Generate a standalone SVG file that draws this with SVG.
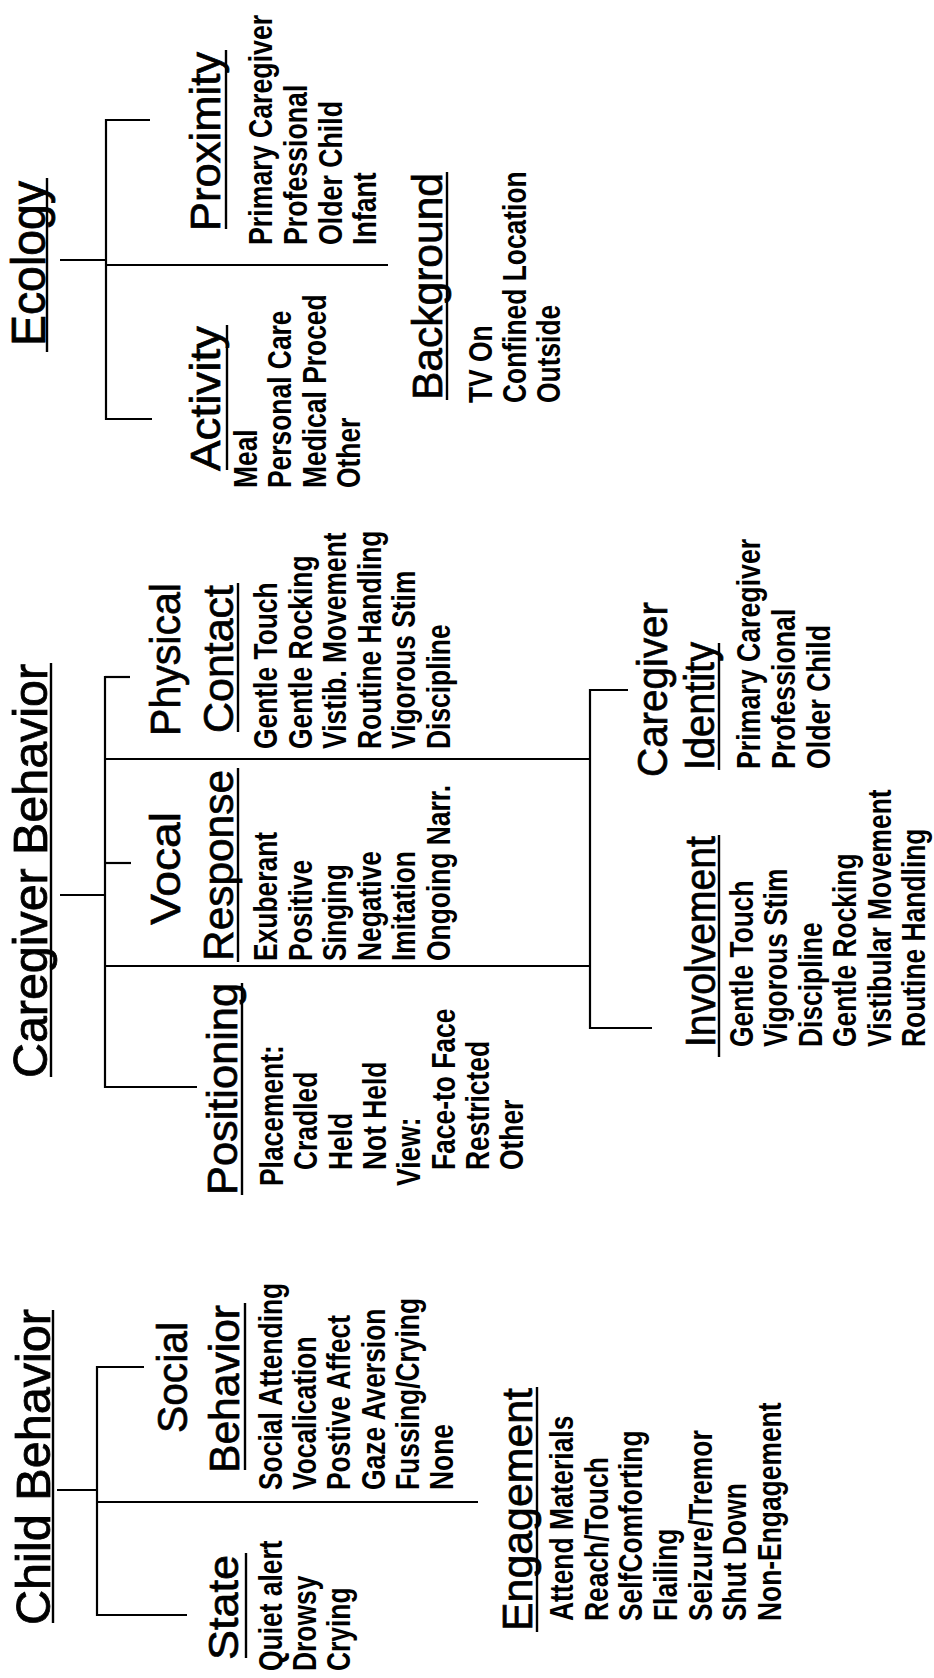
<svg xmlns="http://www.w3.org/2000/svg" width="934" height="1678" viewBox="0 0 934 1678">
<style>
text{font-family:"Liberation Sans",Arial,sans-serif;fill:#000}
.t{font-size:48px;stroke:#000;stroke-width:0.8px}
.h{font-size:43px;stroke:#000;stroke-width:0.7px}
.i{font-size:33px;font-weight:bold}
.u{stroke:#000;stroke-width:2.4;fill:none}
.c line{stroke:#000;stroke-width:2.2;fill:none}
</style>
<rect width="934" height="1678" fill="#fff"/>

<g id="connectors" class="c">
  <!-- Ecology -->
  <line x1="60" y1="260" x2="106" y2="260"/>
  <line x1="106" y1="119" x2="106" y2="420"/>
  <line x1="106" y1="120" x2="150" y2="120"/>
  <line x1="106" y1="419" x2="152" y2="419"/>
  <line x1="106" y1="265" x2="388" y2="265"/>
  <!-- Caregiver Behavior -->
  <line x1="60" y1="895" x2="105" y2="895"/>
  <line x1="105" y1="676" x2="105" y2="1088"/>
  <line x1="105" y1="677" x2="130" y2="677"/>
  <line x1="105" y1="759" x2="590" y2="759"/>
  <line x1="105" y1="863" x2="131" y2="863"/>
  <line x1="105" y1="966" x2="590" y2="966"/>
  <line x1="105" y1="1087" x2="197" y2="1087"/>
  <line x1="590" y1="689" x2="590" y2="1029"/>
  <line x1="590" y1="690" x2="628" y2="690"/>
  <line x1="590" y1="1028" x2="652" y2="1028"/>
  <!-- Child Behavior -->
  <line x1="57" y1="1490" x2="97" y2="1490"/>
  <line x1="97" y1="1366" x2="97" y2="1616"/>
  <line x1="97" y1="1367" x2="144" y2="1367"/>
  <line x1="97" y1="1615" x2="187" y2="1615"/>
  <line x1="97" y1="1502" x2="478" y2="1502"/>
</g>

<!-- ECOLOGY -->
<g id="ecology">
  <text class="t" transform="translate(45,346) rotate(-90)" textLength="165" lengthAdjust="spacingAndGlyphs">Ecology</text>
  <line class="u" x1="47" y1="178" x2="47" y2="352"/>
</g>
<g id="proximity">
  <text class="h" font-size="44" transform="translate(220,231) rotate(-90)" textLength="179" lengthAdjust="spacingAndGlyphs">Proximity</text>
  <line class="u" x1="226" y1="50" x2="226" y2="229"/>
  <text class="i" transform="translate(272,245) rotate(-90) scale(0.81,1)"><tspan x="0" y="0">Primary Caregiver</tspan><tspan x="0" y="35">Professional</tspan><tspan x="0" y="70">Older Child</tspan><tspan x="0" y="104">Infant</tspan></text>
</g>
<g id="activity">
  <text class="h" transform="translate(220,471) rotate(-90)" textLength="145" lengthAdjust="spacingAndGlyphs">Activity</text>
  <line class="u" x1="227" y1="325" x2="227" y2="470"/>
  <text class="i" transform="translate(257,488) rotate(-90) scale(0.8,1)"><tspan x="0" y="0">Meal</tspan><tspan x="0" y="34.5">Personal Care</tspan><tspan x="0" y="69">Medical Proced</tspan><tspan x="0" y="103">Other</tspan></text>
</g>
<g id="background">
  <text class="h" font-size="42" transform="translate(442,400) rotate(-90)" textLength="227" lengthAdjust="spacingAndGlyphs">Background</text>
  <line class="u" x1="447" y1="172" x2="447" y2="400"/>
  <text class="i" transform="translate(492,403) rotate(-90) scale(0.8,1)"><tspan x="0" y="0">TV On</tspan><tspan x="0" y="34">Confined Location</tspan><tspan x="0" y="68">Outside</tspan></text>
</g>

<!-- CAREGIVER BEHAVIOR -->
<g id="caregiver-behavior">
  <text class="t" transform="translate(47,1078) rotate(-90)" textLength="414" lengthAdjust="spacingAndGlyphs">Caregiver Behavior</text>
  <line class="u" x1="51" y1="663" x2="51" y2="1077"/>
</g>
<g id="physical-contact">
  <text class="h" font-size="44" transform="translate(180,736) rotate(-90)" textLength="153" lengthAdjust="spacingAndGlyphs">Physical</text>
  <text class="h" transform="translate(233,733) rotate(-90)" textLength="148" lengthAdjust="spacingAndGlyphs">Contact</text>
  <line class="u" x1="238" y1="583" x2="238" y2="732"/>
  <text class="i" transform="translate(277,749) rotate(-90) scale(0.8,1)"><tspan x="0" y="0">Gentle Touch</tspan><tspan x="0" y="34.6">Gentle Rocking</tspan><tspan x="0" y="69">Vistib. Movement</tspan><tspan x="0" y="103.8">Routine Handling</tspan><tspan x="0" y="138.3">Vigorous Stim</tspan><tspan x="0" y="173">Discipline</tspan></text>
</g>
<g id="vocal-response">
  <text class="h" font-size="44" transform="translate(180,925) rotate(-90)" textLength="113" lengthAdjust="spacingAndGlyphs">Vocal</text>
  <text class="h" transform="translate(233,961) rotate(-90)" textLength="191" lengthAdjust="spacingAndGlyphs">Response</text>
  <line class="u" x1="238" y1="768" x2="238" y2="962"/>
  <text class="i" transform="translate(277,961) rotate(-90) scale(0.8,1)"><tspan x="0" y="0">Exuberant</tspan><tspan x="0" y="34.6">Positive</tspan><tspan x="0" y="69">Singing</tspan><tspan x="0" y="103.8">Negative</tspan><tspan x="0" y="138.3">Imitation</tspan><tspan x="0" y="173">Ongoing Narr.</tspan></text>
</g>
<g id="positioning">
  <text class="h" font-size="44" transform="translate(237,1195) rotate(-90)" textLength="212" lengthAdjust="spacingAndGlyphs">Positioning</text>
  <line class="u" x1="242" y1="983" x2="242" y2="1195"/>
  <text class="i" transform="translate(283,1186) rotate(-90) scale(0.8,1)"><tspan x="0" y="0">Placement:</tspan><tspan x="20" y="34.3">Cradled</tspan><tspan x="20" y="68.6">Held</tspan><tspan x="20" y="103">Not Held</tspan><tspan x="0" y="137.3">View:</tspan><tspan x="20" y="171.6">Face-to Face</tspan><tspan x="20" y="206">Restricted</tspan><tspan x="20" y="240.3">Other</tspan></text>
</g>
<g id="caregiver-identity">
  <text class="h" font-size="44" transform="translate(667,777) rotate(-90)" textLength="175" lengthAdjust="spacingAndGlyphs">Caregiver</text>
  <text class="h" font-size="42" transform="translate(714,770) rotate(-90)" textLength="128" lengthAdjust="spacingAndGlyphs">Identity</text>
  <line class="u" x1="719" y1="643" x2="719" y2="770"/>
  <text class="i" transform="translate(760,769) rotate(-90) scale(0.81,1)"><tspan x="0" y="0">Primary Caregiver</tspan><tspan x="0" y="35">Professional</tspan><tspan x="0" y="70">Older Child</tspan></text>
</g>
<g id="involvement">
  <text class="h" font-size="42" transform="translate(715,1047) rotate(-90)" textLength="211" lengthAdjust="spacingAndGlyphs">Involvement</text>
  <line class="u" x1="719" y1="835" x2="719" y2="1057"/>
  <text class="i" transform="translate(753,1047) rotate(-90) scale(0.8,1)"><tspan x="0" y="0">Gentle Touch</tspan><tspan x="0" y="34.4">Vigorous Stim</tspan><tspan x="0" y="68.8">Discipline</tspan><tspan x="0" y="103.2">Gentle Rocking</tspan><tspan x="0" y="137.6">Vistibular Movement</tspan><tspan x="0" y="172">Routine Handling</tspan></text>
</g>

<!-- CHILD BEHAVIOR -->
<g id="child-behavior">
  <text class="t" transform="translate(50,1625) rotate(-90)" textLength="316" lengthAdjust="spacingAndGlyphs">Child Behavior</text>
  <line class="u" x1="53" y1="1310" x2="53" y2="1623"/>
</g>
<g id="state">
  <text class="h" transform="translate(238,1660) rotate(-90)" textLength="105" lengthAdjust="spacingAndGlyphs">State</text>
  <line class="u" x1="246" y1="1553" x2="246" y2="1658"/>
  <text class="i" transform="translate(282,1671) rotate(-90) scale(0.8,1)"><tspan x="0" y="0">Quiet alert</tspan><tspan x="0" y="34.5">Drowsy</tspan><tspan x="0" y="68.5">Crying</tspan></text>
</g>
<g id="social-behavior">
  <text class="h" font-size="44" transform="translate(187,1433) rotate(-90)" textLength="111" lengthAdjust="spacingAndGlyphs">Social</text>
  <text class="h" transform="translate(239,1473) rotate(-90)" textLength="168" lengthAdjust="spacingAndGlyphs">Behavior</text>
  <line class="u" x1="245" y1="1303" x2="245" y2="1470"/>
  <text class="i" transform="translate(282,1490) rotate(-90) scale(0.8,1)"><tspan x="0" y="0">Social Attending</tspan><tspan x="0" y="34.2">Vocalication</tspan><tspan x="0" y="68.4">Postive Affect</tspan><tspan x="0" y="102.6">Gaze Aversion</tspan><tspan x="0" y="136.8">Fussing/Crying</tspan><tspan x="0" y="171">None</tspan></text>
</g>
<g id="engagement">
  <text class="h" transform="translate(532,1631) rotate(-90)" textLength="243" lengthAdjust="spacingAndGlyphs">Engagement</text>
  <line class="u" x1="537" y1="1387" x2="537" y2="1632"/>
  <text class="i" transform="translate(573,1621) rotate(-90) scale(0.8,1)"><tspan x="0" y="0">Attend Materials</tspan><tspan x="0" y="34.7">Reach/Touch</tspan><tspan x="0" y="69.4">SelfComforting</tspan><tspan x="0" y="104">Flailing</tspan><tspan x="0" y="138.8">Seizure/Tremor</tspan><tspan x="0" y="173.5">Shut Down</tspan><tspan x="0" y="208.2">Non-Engagement</tspan></text>
</g>
</svg>
